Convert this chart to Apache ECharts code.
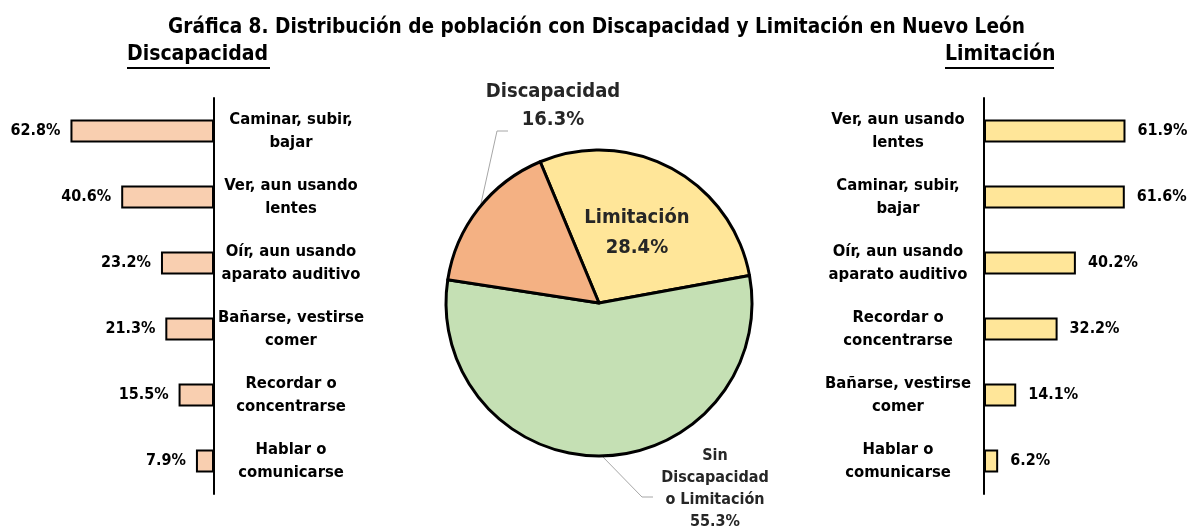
<!DOCTYPE html>
<html>
<head>
<meta charset="utf-8">
<script src="https://cdn.jsdelivr.net/npm/echarts@6/dist/echarts.min.js"></script>
<style>
  html, body { margin: 0; padding: 0; background: #fff; }
  #main { width: 1193px; height: 529px; }
</style>
</head>
<body>
<div id="main"></div>
<script>
var FONT = "'DejaVu Sans Condensed', 'Liberation Sans Narrow', sans-serif";

// datos
var discCats = ['Caminar, subir,\nbajar', 'Ver, aun usando\nlentes', 'Oír, aun usando\naparato auditivo',
                'Bañarse, vestirse\ncomer', 'Recordar o\nconcentrarse', 'Hablar o\ncomunicarse'];
var discVals = [62.8, 40.6, 23.2, 21.3, 15.5, 7.9];

var limCats = ['Ver, aun usando\nlentes', 'Caminar, subir,\nbajar', 'Oír, aun usando\naparato auditivo',
               'Recordar o\nconcentrarse', 'Bañarse, vestirse\ncomer', 'Hablar o\ncomunicarse'];
var limVals = [61.9, 61.6, 40.2, 32.2, 14.1, 6.2];

var pieNames = ['Limitación', 'Sin\nDiscapacidad\no Limitación', 'Discapacidad'];
var pieVals = [28.4, 55.3, 16.3];

// posiciones de etiquetas del pastel (texto, inicio, codo, fin de linea)
var pieLabelPos = [
  null,
  { x: 715, y: 489, start: [602, 456], elbow: [642, 497], end: [653, 497] },
  { x: 553, y: 106, start: [480, 208], elbow: [497, 131], end: [508, 131] }
];

function pct(p) { return p.value.toFixed(1) + '%'; }
function pieFmt(p) { return p.name + '\n' + p.value.toFixed(1) + '%'; }

var barLabel = { show: true, fontFamily: FONT, fontSize: 16, fontWeight: 'bold', color: '#000', formatter: pct };
var catLabel = { fontFamily: FONT, fontSize: 16.5, fontWeight: 'bold', color: '#000', lineHeight: 23, align: 'center' };

var option = {
  animation: false,
  title: {
    text: 'Gráfica 8. Distribución de población con Discapacidad y Limitación en Nuevo León',
    left: 'center',
    top: 12,
    textStyle: { fontFamily: FONT, fontSize: 20.6, fontWeight: 'bold', color: '#000' }
  },
  graphic: [
    { type: 'text', left: 127, top: 44, style: { text: 'Discapacidad', fontFamily: FONT, fontSize: 21, fontWeight: 'bold', fill: '#000' } },
    { type: 'rect', left: 127, top: 67, shape: { width: 143, height: 2 }, style: { fill: '#000' } },
    { type: 'text', left: 945, top: 44, style: { text: 'Limitación', fontFamily: FONT, fontSize: 21, fontWeight: 'bold', fill: '#000' } },
    { type: 'rect', left: 945, top: 67, shape: { width: 109, height: 2 }, style: { fill: '#000' } }
  ],
  grid: [
    { left: 54, top: 98, width: 160, height: 396 },
    { left: 984, top: 98, width: 160, height: 396 }
  ],
  xAxis: [
    { gridIndex: 0, type: 'value', min: 0, max: 70, inverse: true, show: false },
    { gridIndex: 1, type: 'value', min: 0, max: 70, show: false }
  ],
  yAxis: [
    {
      gridIndex: 0, type: 'category', data: discCats, inverse: true, position: 'right',
      axisLine: { lineStyle: { color: '#000', width: 2 } },
      axisTick: { show: false },
      axisLabel: Object.assign({ margin: 77 }, catLabel)
    },
    {
      gridIndex: 1, type: 'category', data: limCats, inverse: true, position: 'left',
      axisLine: { lineStyle: { color: '#000', width: 2 } },
      axisTick: { show: false },
      axisLabel: Object.assign({ margin: 86 }, catLabel)
    }
  ],
  series: [
    {
      type: 'bar', xAxisIndex: 0, yAxisIndex: 0, data: discVals, barWidth: 23,
      itemStyle: { color: '#F9CFB0', borderColor: '#000', borderWidth: 2 },
      label: Object.assign({ position: 'left', distance: 10 }, barLabel)
    },
    {
      type: 'bar', xAxisIndex: 1, yAxisIndex: 1, data: limVals, barWidth: 23,
      itemStyle: { color: '#FFE699', borderColor: '#000', borderWidth: 2 },
      label: Object.assign({ position: 'right', distance: 12 }, barLabel)
    },
    {
      type: 'pie',
      center: [599, 303],
      radius: 153,
      startAngle: 112.6,
      clockwise: true,
      itemStyle: { borderColor: '#000', borderWidth: 3 },
      labelLine: { lineStyle: { color: '#A6A6A6', width: 1 } },
      labelLayout: function (p) {
        var pos = pieLabelPos[p.dataIndex];
        if (!pos) return {};
        return { x: pos.x, y: pos.y, align: 'center', verticalAlign: 'middle',
                 labelLinePoints: [pos.start, pos.elbow, pos.end] };
      },
      data: [
        {
          name: pieNames[0], value: pieVals[0],
          itemStyle: { color: '#FFE699' },
          label: { position: 'inside', fontFamily: FONT, fontSize: 20, fontWeight: 'bold', color: '#262626', lineHeight: 30, formatter: pieFmt },
          labelLine: { show: false }
        },
        {
          name: pieNames[1], value: pieVals[1],
          itemStyle: { color: '#C5E0B4' },
          label: { position: 'outside', fontFamily: FONT, fontSize: 16, fontWeight: 'bold', color: '#262626', lineHeight: 22, align: 'center', formatter: pieFmt }
        },
        {
          name: pieNames[2], value: pieVals[2],
          itemStyle: { color: '#F4B183' },
          label: { position: 'outside', fontFamily: FONT, fontSize: 20, fontWeight: 'bold', color: '#262626', lineHeight: 28, align: 'center', formatter: pieFmt }
        }
      ]
    }
  ]
};

var chart = echarts.init(document.getElementById('main'));
chart.setOption(option);
</script>
</body>
</html>
